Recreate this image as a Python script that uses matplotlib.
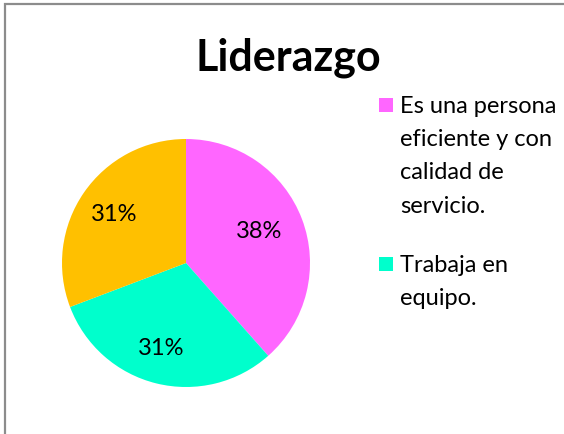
import matplotlib
matplotlib.use("Agg")
import matplotlib.pyplot as plt
from matplotlib.patches import Rectangle

title = "Liderazgo"
categories = ["Es una persona\neficiente y con\ncalidad de\nservicio.",
              "Trabaja en\nequipo.",
              ""]
values = [38.5, 30.8, 30.8]
pct_labels = ["38%", "31%", "31%"]
colors = ["#FF66FF", "#00FFCC", "#FFC000"]

W, H = 564, 435
fig = plt.figure(figsize=(W / 100, H / 100), dpi=100)
fig.patch.set_facecolor("white")

def fx(px):
    return px / W

def fy(py):
    return 1 - py / H

# outer border (cropped on right/bottom)
fig.patches.append(Rectangle((fx(5), fy(460)), fx(600), 455 / H,
                             transform=fig.transFigure, fill=False,
                             edgecolor="#8c8c8c", linewidth=1.6))

cx, cy, r = 186, 264, 124
ax = fig.add_axes([fx(cx - r), fy(cy + r), 2 * r / W, 2 * r / H])
wedges, texts, autotexts = ax.pie(values, colors=colors, startangle=90,
                                  counterclock=False, autopct="%1.0f%%",
                                  pctdistance=0.7,
                                  textprops=dict(fontsize=17, family="Lato", color="black"))
for t, lab in zip(autotexts, pct_labels):
    t.set_text(lab)
x0, y0 = autotexts[0].get_position()
autotexts[0].set_position((x0 * 0.9, y0 * 1.05))
x2, y2 = autotexts[1].get_position()
autotexts[1].set_position((x2 - 0.035, y2))
ax.set_xlim(-1, 1)
ax.set_ylim(-1, 1)
ax.set_aspect("auto")
ax.axis("off")

fig.text(fx(288), fy(58), title, ha="center", va="center",
         fontsize=31, fontweight="bold", family="Lato")

# legend (only first two entries visible)
leg_y = [106, 265]
for i in range(2):
    y = leg_y[i]
    fig.patches.append(Rectangle((fx(379), fy(y + 7)), 14 / W, 14 / H,
                                 transform=fig.transFigure,
                                 facecolor=colors[i], edgecolor="none"))
    fig.text(fx(400), fy(y - 10), categories[i], ha="left", va="top",
             fontsize=17, family="Lato", linespacing=1.72)

fig.savefig("out.png", dpi=100)
